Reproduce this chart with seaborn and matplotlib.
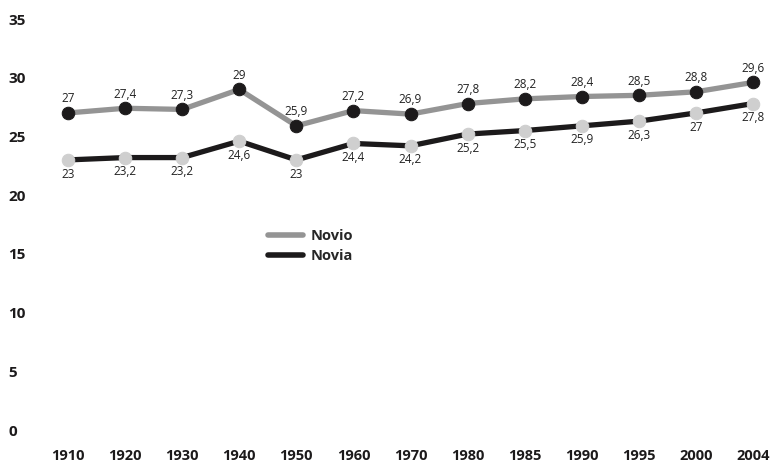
import matplotlib
matplotlib.use("Agg")
import matplotlib.pyplot as plt
from matplotlib.lines import Line2D
import seaborn as sns
import pandas as pd

years = ["1910", "1920", "1930", "1940", "1950", "1960", "1970",
         "1980", "1985", "1990", "1995", "2000", "2004"]
novio = [27, 27.4, 27.3, 29, 25.9, 27.2, 26.9, 27.8, 28.2, 28.4, 28.5, 28.8, 29.6]
novia = [23, 23.2, 23.2, 24.6, 23, 24.4, 24.2, 25.2, 25.5, 25.9, 26.3, 27, 27.8]
y_ticks = [0, 5, 10, 15, 20, 25, 30, 35]

sns.set_style("white")
plt.rcParams['font.family'] = ['Open Sans', 'DejaVu Sans']

df = pd.DataFrame({'pos': range(len(years)), 'Novio': novio, 'Novia': novia})

fig = plt.figure(figsize=(7.76, 4.68), dpi=100)
ax = fig.add_axes([68 / 776, 38 / 468, 685 / 776, 411 / 468])

def fmt(v):
    return f"{v:g}".replace('.', ',')

# Novio: gray line, black dots
sns.lineplot(data=df, x='pos', y='Novio', ax=ax, color='#949494', linewidth=3.8,
             marker='o', markersize=9, markerfacecolor='#1c1a1b',
             markeredgecolor='#1c1a1b', clip_on=False, zorder=3)
# Novia: black line, light gray dots
sns.lineplot(data=df, x='pos', y='Novia', ax=ax, color='#1c1a1b', linewidth=3.8,
             marker='o', markersize=9, markerfacecolor='#cfcfcf',
             markeredgecolor='#cfcfcf', clip_on=False, zorder=3)

for i, v in enumerate(novio):
    ax.annotate(fmt(v), (i, v), xytext=(0, 5.5), textcoords='offset points',
                ha='center', va='bottom', fontsize=8.5, color='#222222')
for i, v in enumerate(novia):
    ax.annotate(fmt(v), (i, v), xytext=(0, -5.5), textcoords='offset points',
                ha='center', va='top', fontsize=8.5, color='#222222')

ax.set_xlim(0, len(years) - 1)
ax.set_ylim(0, 35)
ax.set_xticks(range(len(years)))
ax.set_xticklabels(years, fontweight='bold', fontsize=10.5, color='#1c1a1b')
ax.set_yticks(y_ticks)
ax.set_yticklabels([str(t) for t in y_ticks], fontweight='bold', fontsize=11,
                   color='#1c1a1b')
for lbl in ax.get_yticklabels():
    lbl.set_horizontalalignment('left')
ax.tick_params(axis='y', length=0, pad=43)
ax.tick_params(axis='x', length=0, pad=14)
ax.set_xlabel('')
ax.set_ylabel('')
sns.despine(ax=ax, left=True, bottom=True)

leg_handles = [Line2D([], [], color='#949494', linewidth=4),
               Line2D([], [], color='#1c1a1b', linewidth=4)]
ax.legend(leg_handles, ['Novio', 'Novia'], loc='upper left',
          bbox_to_anchor=(200 / 685, 1 - (229 - 19) / 411), frameon=False,
          prop={'weight': 'bold', 'size': 10.5}, handlelength=2.4,
          handletextpad=0.5, labelspacing=0.4, borderpad=0, borderaxespad=0)

fig.savefig('out.png', dpi=100)
